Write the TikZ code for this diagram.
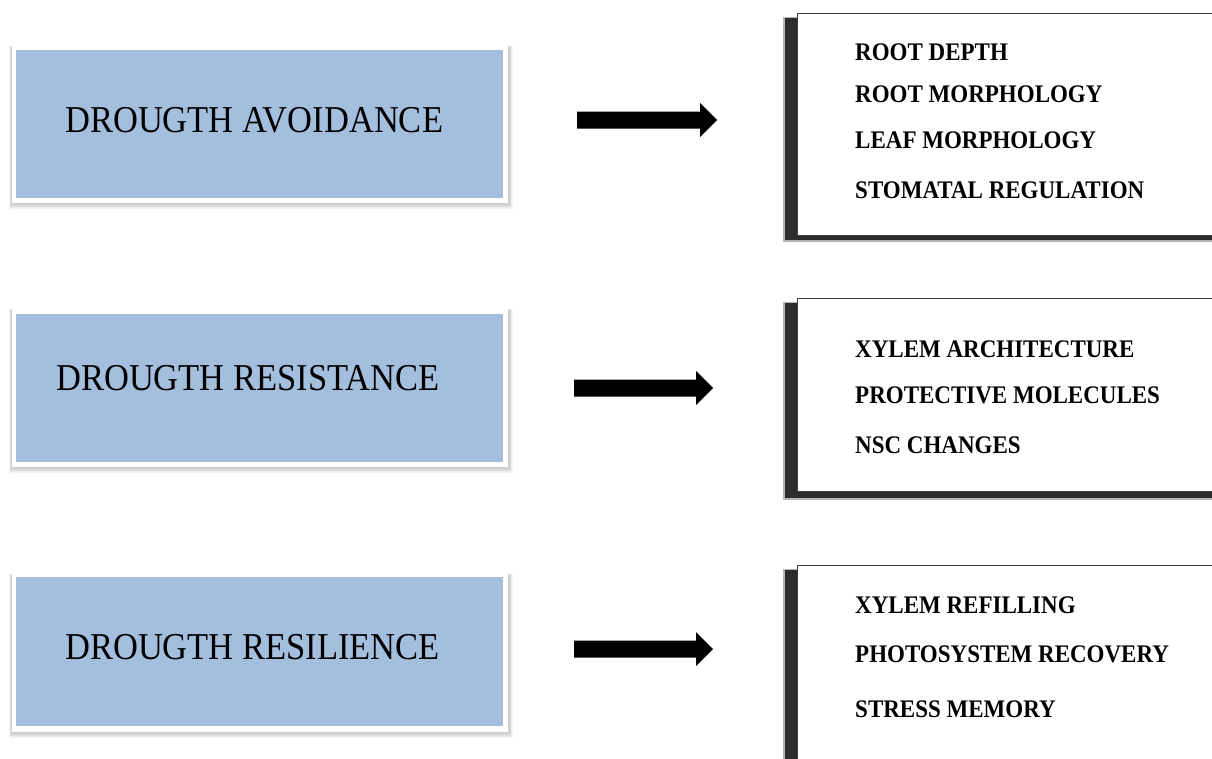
\documentclass[tikz,border=0pt]{standalone}
\usepackage{fontspec}
\setmainfont{Liberation Serif}
\usetikzlibrary{calc}
\definecolor{boxblue}{RGB}{164,190,222}
\definecolor{framegray}{RGB}{60,60,60}
\definecolor{shadowgray}{RGB}{45,45,45}
\tikzset{
  bluebox/.style={fill=boxblue, draw=none},
  whiteframe/.style={fill=white, draw=none},
  softshadow/.style={fill=black, opacity=0.04, draw=none},
  listbox/.style={fill=white, draw=framegray, line width=0.8pt},
  darkshadow/.style={fill=shadowgray, draw=none},
  fadeshadow/.style={fill=shadowgray, opacity=0.35, draw=none},
  bigtext/.style={anchor=base west, inner sep=0pt, yscale=1.1, font=\fontsize{34.5}{40}\selectfont},
  itemtext/.style={anchor=base west, inner sep=0pt, yscale=1.1, font=\fontsize{23}{28}\selectfont\bfseries},
  blockarrow/.style={fill=black, draw=none}
}
\begin{document}
\begin{tikzpicture}[x=1pt,y=-1pt]
\path[use as bounding box, clip] (0,0) rectangle (1212,758);
\fill[white] (0,0) rectangle (1212,758);

% ---- left boxes with soft shadow and white frame
\foreach \ya/\yb [count=\i] in {45/203, 308/467, 573/732}{
  \foreach \k in {1,...,5}{
    \fill[softshadow] ($(12-\k*0.6,\ya-\k*0.2+2)$) rectangle ($(508+\k*0.8+1,\yb+\k*1.0+1)$);
  }
  \fill[whiteframe] (12,\ya) rectangle (508,\yb);
}
\node[bluebox, minimum width=487pt, minimum height=148pt, inner sep=0pt] (L1) at (259.5,124) {};
\node[bluebox, minimum width=487pt, minimum height=148pt, inner sep=0pt] (L2) at (259.5,388) {};
\node[bluebox, minimum width=487pt, minimum height=149pt, inner sep=0pt] (L3) at (259.5,651.5) {};

\node[bigtext] (T1) at (65,132) {DROUGTH AVOIDANCE};
\node[bigtext] (T2) at (56,390) {DROUGTH RESISTANCE};
\node[bigtext] (T3) at (65,659) {DROUGTH RESILIENCE};

% ---- right boxes with dark shadow
\fill[fadeshadow] (783,17) rectangle (1215,242);
\fill[darkshadow] (785,18) rectangle (1215,240);
\node[listbox, minimum width=428pt, minimum height=222pt, inner sep=0pt] (R1) at (1011,124) {};
\fill[fadeshadow] (783,302) rectangle (1215,500);
\fill[darkshadow] (785,303) rectangle (1215,498);
\node[listbox, minimum width=428pt, minimum height=193pt, inner sep=0pt] (R2) at (1011,394.5) {};
\fill[fadeshadow] (783,569) rectangle (1215,790);
\fill[darkshadow] (785,570) rectangle (1215,790);
\node[listbox, minimum width=428pt, minimum height=215pt, inner sep=0pt] (R3) at (1011,672.5) {};

\node[itemtext] (a1) at (855,60) {ROOT DEPTH};
\node[itemtext] (a2) at (855,102) {ROOT MORPHOLOGY};
\node[itemtext] (a3) at (855,148) {LEAF MORPHOLOGY};
\node[itemtext] (a4) at (855,198) {STOMATAL REGULATION};

\node[itemtext] (b1) at (855,357) {XYLEM ARCHITECTURE};
\node[itemtext] (b2) at (855,403) {PROTECTIVE MOLECULES};
\node[itemtext] (b3) at (855,453) {NSC CHANGES};

\node[itemtext] (c1) at (855,613) {XYLEM REFILLING};
\node[itemtext] (c2) at (855,662) {PHOTOSYSTEM RECOVERY};
\node[itemtext] (c3) at (855,717) {STRESS MEMORY};

% ---- block arrows
\coordinate (s1) at (577,120); \coordinate (e1) at (717,120);
\coordinate (s2) at (574,388); \coordinate (e2) at (713,388);
\coordinate (s3) at (574,649); \coordinate (e3) at (713,649);
\foreach \s/\e in {s1/e1, s2/e2, s3/e3}{
  \fill[blockarrow] ($(\s)+(0,-8.5)$) -- ($(\e)+(-17,-8.5)$) -- ($(\e)+(-17,-17)$) -- (\e)
    -- ($(\e)+(-17,17)$) -- ($(\e)+(-17,8.5)$) -- ($(\s)+(0,8.5)$) -- cycle;
}
\end{tikzpicture}
\end{document}
